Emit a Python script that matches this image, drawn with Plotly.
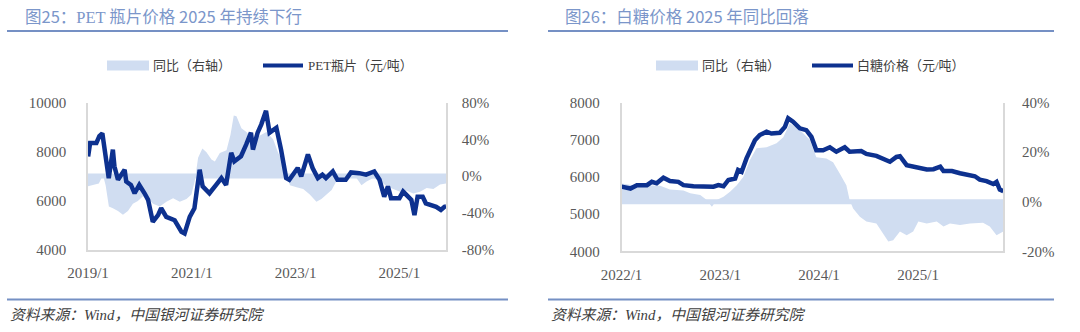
import plotly.graph_objects as go

W, H = 1080, 332

# ---------------- PET bottle-chip price (CNY/t) and YoY (%) ----------------
pet_dates = [
    "2019-01-02", "2019-01-16", "2019-03-01", "2019-03-22", "2019-04-12", "2019-04-27",
    "2019-05-27", "2019-06-25", "2019-07-06", "2019-07-31", "2019-09-16", "2019-09-27",
    "2019-10-30", "2019-11-25", "2019-12-28", "2020-02-03", "2020-02-28", "2020-04-01",
    "2020-05-08", "2020-05-30", "2020-07-05", "2020-09-02", "2020-10-20", "2020-11-11",
    "2020-12-17", "2021-01-19", "2021-02-25", "2021-03-18", "2021-05-05", "2021-06-21",
    "2021-07-28", "2021-08-30", "2021-10-05", "2021-10-27", "2021-12-13", "2022-01-19",
    "2022-02-21", "2022-03-07", "2022-04-09", "2022-05-05", "2022-06-07", "2022-07-02",
    "2022-08-19", "2022-09-21", "2022-10-27", "2022-11-18", "2023-01-16", "2023-02-10",
    "2023-03-29", "2023-05-01", "2023-06-07", "2023-07-09", "2023-08-03", "2023-09-20",
    "2023-10-23", "2023-12-20", "2024-01-26", "2024-03-25", "2024-05-11", "2024-07-08",
    "2024-08-14", "2024-09-16", "2024-10-12", "2024-11-03", "2025-01-01", "2025-01-27",
    "2025-03-26", "2025-04-17", "2025-05-09", "2025-06-14", "2025-07-06", "2025-09-17",
    "2025-10-20", "2025-11-14", "2025-11-25",
]
pet_price = [
    7800, 8350, 8350, 8630, 8740, 8220,
    6920, 8080, 7400, 6850, 7260, 6780,
    6640, 6300, 6640, 6300, 6030, 5140,
    5410, 5690, 5340, 5200, 4730, 4660,
    5340, 5690, 7260, 6580, 6300, 6640,
    6920, 6640, 7950, 7600, 7810, 8290,
    8770, 8080, 8770, 9110, 9660, 8770,
    8970, 8080, 6920, 6850, 7330, 6990,
    7880, 7330, 6920, 7060, 6920, 7190,
    6850, 6850, 7150, 7120, 7060, 7190,
    6850, 6160, 6580, 6100, 6100, 6370,
    6030, 5410, 6160, 6160, 5890, 5750,
    5620, 5750, 5760,
]
pet_yoy_dates = [
    "2019-01-01", "2019-02-05", "2019-03-18", "2019-04-04", "2019-04-15", "2019-05-05",
    "2019-05-28", "2019-06-25", "2019-07-31", "2019-09-04", "2019-10-09", "2019-11-13",
    "2019-12-18", "2020-01-23", "2020-02-27", "2020-04-03", "2020-05-20", "2020-07-06",
    "2020-08-22", "2020-10-08", "2020-11-24", "2020-12-29", "2021-01-22", "2021-02-14",
    "2021-03-16", "2021-04-14", "2021-05-19", "2021-06-12", "2021-07-17", "2021-09-02",
    "2021-09-30", "2021-10-23", "2021-11-11", "2021-12-16", "2022-01-20", "2022-03-08",
    "2022-04-24", "2022-06-10", "2022-07-27", "2022-09-01", "2022-10-06", "2022-10-29",
    "2022-11-22", "2023-01-08", "2023-02-24", "2023-04-11", "2023-05-28", "2023-07-02",
    "2023-08-07", "2023-09-12", "2023-10-17", "2023-12-03", "2024-01-18", "2024-03-05",
    "2024-04-09", "2024-05-15", "2024-07-01", "2024-08-17", "2024-10-03", "2024-11-19",
    "2025-01-05", "2025-02-21", "2025-04-09", "2025-05-26", "2025-07-12", "2025-08-28",
    "2025-10-14", "2025-11-25",
]
pet_yoy = [
    -11, -10, -8, -3, 2, -10,
    -33, -35, -38, -42, -38, -30,
    -27, -22, -25, -30, -33, -28,
    -24, -28, -25, -20, -5, 20,
    30, 26, 18, 16, 25, 28,
    45, 66, 65, 52, 48, 40,
    44, 48, 40, 25, 15, 2,
    -10, -12, -14, -20, -28, -25,
    -20, -15, -5, -2, 1, -2,
    -10, -6, -2, -5, -11, -14,
    -17, -16, -19, -17, -13, -14,
    -9, -8,
]

# ---------------- White sugar price (CNY/t) and YoY (%) ----------------
sugar_dates = [
    "2022-01-01", "2022-02-03", "2022-02-27", "2022-04-05", "2022-04-23", "2022-05-11",
    "2022-06-05", "2022-06-29", "2022-07-30", "2022-08-18", "2022-09-24", "2022-10-19",
    "2022-11-12", "2022-12-07", "2022-12-25", "2023-01-13", "2023-01-31", "2023-02-25",
    "2023-03-08", "2023-03-21", "2023-04-08", "2023-04-27", "2023-05-09", "2023-05-27",
    "2023-06-21", "2023-07-09", "2023-08-09", "2023-08-28", "2023-09-09", "2023-09-27",
    "2023-10-22", "2023-11-15", "2023-12-04", "2023-12-22", "2024-01-16", "2024-02-10",
    "2024-03-05", "2024-04-05", "2024-04-23", "2024-06-05", "2024-06-24", "2024-07-31",
    "2024-09-01", "2024-09-19", "2024-10-13", "2024-10-26", "2024-11-20", "2024-12-14",
    "2025-01-08", "2025-02-02", "2025-02-27", "2025-03-11", "2025-03-24", "2025-04-05",
    "2025-05-06", "2025-06-05", "2025-06-30", "2025-07-30", "2025-08-17", "2025-09-11",
    "2025-10-06", "2025-10-18", "2025-10-30", "2025-11-12",
]
sugar_price = [
    5740, 5690, 5780, 5780, 5870, 5830,
    5980, 5890, 5870, 5780, 5750, 5740,
    5720, 5740, 5780, 5750, 5920, 5960,
    6190, 6140, 6500, 6770, 6990, 7130,
    7220, 7170, 7190, 7350, 7580, 7490,
    7310, 7260, 7080, 6720, 6720, 6800,
    6680, 6800, 6680, 6700, 6620, 6570,
    6470, 6410, 6540, 6560, 6320, 6280,
    6260, 6200, 6210, 6260, 6280, 6160,
    6160, 6100, 6050, 6020, 5930, 5890,
    5810, 5870, 5660, 5620,
]
sugar_yoy_dates = [
    "2022-01-01", "2022-01-22", "2022-02-27", "2022-04-05", "2022-05-24", "2022-06-29",
    "2022-08-18", "2022-09-12", "2022-10-19", "2022-11-12", "2022-12-01", "2022-12-19",
    "2023-01-13", "2023-02-06", "2023-03-03", "2023-03-27", "2023-04-21", "2023-05-15",
    "2023-06-21", "2023-07-28", "2023-08-22", "2023-09-15", "2023-10-22", "2023-11-28",
    "2023-12-22", "2024-01-28", "2024-02-22", "2024-03-17", "2024-04-11", "2024-04-23",
    "2024-05-06", "2024-05-31", "2024-06-24", "2024-07-31", "2024-09-01", "2024-09-13",
    "2024-10-01", "2024-10-26", "2024-11-20", "2024-12-14", "2025-01-02", "2025-02-02",
    "2025-03-11", "2025-04-05", "2025-04-29", "2025-06-05", "2025-07-12", "2025-08-29",
    "2025-09-23", "2025-10-18", "2025-11-12",
]
sugar_yoy = [
    7.4, 7, 6.5, 6.7, 6.5, 5,
    4.5, 3.4, 2.7, 0.7, -2, 0.7,
    2, 4, 6.7, 10, 17, 21.6,
    22, 23.6, 26, 31.7, 29, 25,
    18, 17.5, 16, 11.5, 6.7, 0.7,
    -2.7, -6, -8, -8.8, -14, -16,
    -15.5, -12, -13.5, -12, -8, -8.8,
    -8, -10, -8.8, -9.4, -8.8, -8.5,
    -10, -13.5, -12,
]

# Axis ticks
pet_price_ticks = [4000, 6000, 8000, 10000]
pet_yoy_ticks = [-80, -40, 0, 40, 80]
pet_x_ticks = ["2019-01-01", "2021-01-01", "2023-01-01", "2025-01-01"]
pet_x_labels = ["2019/1", "2021/1", "2023/1", "2025/1"]
sugar_price_ticks = [4000, 5000, 6000, 7000, 8000]
sugar_yoy_ticks = [-20, 0, 20, 40]
sugar_x_ticks = ["2022-01-01", "2023-01-01", "2024-01-01", "2025-01-01"]
sugar_x_labels = ["2022/1", "2023/1", "2024/1", "2025/1"]

titles = ["图25：<span style='font-family:Liberation Serif'>PET</span> 瓶片价格 2025 年持续下行",
          "图26：白糖价格 2025 年同比回落"]
area_names = ["同比（右轴）", "同比（右轴）"]
line_names = ["PET瓶片（元/吨）", "白糖价格（元/吨）"]
source_text = "资料来源：Wind，中国银河证券研究院"

# ---------------- styling ----------------
LINE_C = "#0d318f"
AREA_C = "#d0ddf1"
AXIS_C = "#d9d9d9"
TICK_C = "#595959"
TITLE_C = "#7b96ca"
RULE_C = "#7590c4"
TICK_FONT = dict(family="Liberation Serif, Noto Sans CJK SC", size=15, color=TICK_C)
LEG_FONT = dict(family="Liberation Serif, Noto Sans CJK SC", size=13, color="#404040")


def px(x):
    return x / W


def py(y):
    return 1 - y / H


fig = go.Figure()

# Left panel: YoY area on right axis (y), price line on left axis (y2)
fig.add_trace(go.Scatter(x=pet_yoy_dates, y=pet_yoy, xaxis="x", yaxis="y",
                         mode="lines", line=dict(width=0, color=AREA_C),
                         fill="tozeroy", fillcolor=AREA_C, showlegend=False,
                         name=area_names[0]))
fig.add_trace(go.Scatter(x=pet_dates, y=pet_price, xaxis="x", yaxis="y2",
                         mode="lines", line=dict(width=4.5, color=LINE_C),
                         showlegend=False, name=line_names[0]))
# Right panel
fig.add_trace(go.Scatter(x=sugar_yoy_dates, y=sugar_yoy, xaxis="x2", yaxis="y3",
                         mode="lines", line=dict(width=0, color=AREA_C),
                         fill="tozeroy", fillcolor=AREA_C, showlegend=False,
                         name=area_names[1]))
fig.add_trace(go.Scatter(x=sugar_dates, y=sugar_price, xaxis="x2", yaxis="y4",
                         mode="lines", line=dict(width=4.5, color=LINE_C),
                         showlegend=False, name=line_names[1]))

xcommon = dict(showgrid=False, zeroline=False, showline=True, linecolor=AXIS_C,
               linewidth=1.5, ticks="", tickfont=TICK_FONT, ticklabelstandoff=9,
               tickmode="array", automargin=False)
ycommon = dict(showgrid=False, zeroline=False, showline=True, linecolor=AXIS_C,
               linewidth=1.5, ticks="", tickfont=TICK_FONT, tickmode="array",
               automargin=False)

left_dom = [px(88), px(446)]
right_dom = [px(621.5), px(1003.3)]

fig.update_layout(
    width=W, height=H, margin=dict(l=0, r=0, t=0, b=0, pad=0, autoexpand=False),
    paper_bgcolor="white", plot_bgcolor="rgba(0,0,0,0)",
    showlegend=False,
    xaxis=dict(xcommon, domain=left_dom, anchor="y2", type="date",
               range=[pet_dates[0][:8] + "01", pet_dates[-1]],
               tickvals=pet_x_ticks, ticktext=pet_x_labels),
    yaxis=dict(ycommon, domain=[py(249.7), py(102.5)], anchor="x", side="right",
               range=[pet_yoy_ticks[0], pet_yoy_ticks[-1]],
               tickvals=pet_yoy_ticks, ticktext=[f"{v}%" for v in pet_yoy_ticks],
               ticklabelstandoff=11),
    yaxis2=dict(ycommon, overlaying="y", anchor="x", side="left",
                range=[pet_price_ticks[0], pet_price_ticks[-1]],
                tickvals=pet_price_ticks, ticktext=[str(v) for v in pet_price_ticks],
                ticklabelstandoff=17),
    xaxis2=dict(xcommon, domain=right_dom, anchor="y4", type="date",
                range=[sugar_dates[0], sugar_dates[-1]],
                tickvals=sugar_x_ticks, ticktext=sugar_x_labels),
    yaxis3=dict(ycommon, domain=[py(251.3), py(102.7)], anchor="x2", side="right",
                range=[sugar_yoy_ticks[0], sugar_yoy_ticks[-1]],
                tickvals=sugar_yoy_ticks, ticktext=[f"{v}%" for v in sugar_yoy_ticks],
                ticklabelstandoff=14),
    yaxis4=dict(ycommon, overlaying="y3", anchor="x2", side="left",
                range=[sugar_price_ticks[0], sugar_price_ticks[-1]],
                tickvals=sugar_price_ticks, ticktext=[str(v) for v in sugar_price_ticks],
                ticklabelstandoff=17),
)

shapes = []
annotations = []

# Thin band marking the zero line of each YoY area
for xa, ya in (("x", "y"), ("x2", "y3")):
    shapes.append(dict(type="line", xref=f"{xa} domain", yref=ya, x0=0, x1=1, y0=0, y1=0,
                       line=dict(color=AREA_C, width=5), layer="below"))

panels = [
    dict(x0=7, x1=508, title_x=23, leg=(107, 149, 151, 263, 303, 306)),
    dict(x0=548, x1=1054, title_x=563, leg=(656, 698, 700, 812, 853, 855)),
]
for i, p in enumerate(panels):
    # heading and rules
    annotations.append(dict(text=titles[i], xref="paper", yref="paper", x=px(p["title_x"]),
                            y=py(15.5), xanchor="left", yanchor="middle", showarrow=False,
                            font=dict(family="Noto Sans CJK SC", size=16.5, color=TITLE_C)))
    for yy in (31, 299.5):
        shapes.append(dict(type="line", xref="paper", yref="paper", x0=px(p["x0"]),
                           x1=px(p["x1"]), y0=py(yy), y1=py(yy),
                           line=dict(color=RULE_C, width=2)))
    annotations.append(dict(text=f"<i>{source_text}</i>", xref="paper", yref="paper",
                            x=px(p["x0"] + 1), y=py(315), xanchor="left", yanchor="middle",
                            showarrow=False,
                            font=dict(family="Liberation Serif, Noto Sans CJK SC", size=14.8,
                                      color="#404040")))
    # legend
    r0, r1, t1, l0, l1, t2 = p["leg"]
    shapes.append(dict(type="rect", xref="paper", yref="paper", x0=px(r0), x1=px(r1),
                       y0=py(70.5), y1=py(60.5), fillcolor=AREA_C, line=dict(width=0)))
    annotations.append(dict(text=area_names[i], xref="paper", yref="paper", x=px(t1),
                            y=py(65.5), xanchor="left", yanchor="middle", showarrow=False,
                            font=LEG_FONT))
    shapes.append(dict(type="line", xref="paper", yref="paper", x0=px(l0), x1=px(l1),
                       y0=py(65.5), y1=py(65.5), line=dict(color=LINE_C, width=4)))
    annotations.append(dict(text=line_names[i], xref="paper", yref="paper", x=px(t2),
                            y=py(65.5), xanchor="left", yanchor="middle", showarrow=False,
                            font=LEG_FONT))

fig.update_layout(shapes=shapes, annotations=annotations)
fig.write_html("out.html")
